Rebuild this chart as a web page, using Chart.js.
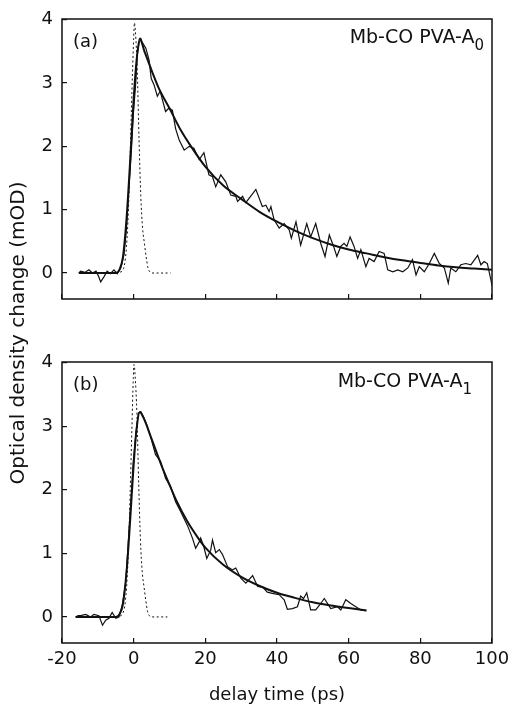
<!DOCTYPE html>
<html>
<head>
<meta charset="utf-8">
<script src="https://cdn.jsdelivr.net/npm/chart.js@4.4.1/dist/chart.umd.min.js"></script>
<style>
  html, body { margin: 0; padding: 0; background: #fff; }
  #wrap { position: relative; width: 512px; height: 706px; overflow: hidden; }
  canvas { position: absolute; left: 0; }
  #top { top: 0; }
  #bottom { top: 320px; }
  #ytitle { position: absolute; left: -183px; top: 322px; width: 400px; text-align: center;
            font-family: "DejaVu Sans"; font-size: 20px; line-height: 22px; color: #111;
            transform: rotate(-90deg); white-space: nowrap; }
</style>
</head>
<body>
<div id="wrap">
  <canvas id="top" width="512" height="320"></canvas>
  <canvas id="bottom" width="512" height="386"></canvas>
  <div id="ytitle">Optical density change (mOD)</div>
</div>
<script>
// axis ticks
const xTicks = [-20, 0, 20, 40, 60, 80, 100];
const yTicks = [0, 1, 2, 3, 4];

// panel (a): measured trace
const aDataT = [-15.3, -14.8, -13.6, -12.5, -11.5, -10.5, -9.8, -9.2, -8.3, -7.4, -6.5, -5.5, -4.6, -3.6, -2.7, -2.0, -1.3, -0.6, -0.1, 0.6,
  1.0, 1.6, 2.0, 2.4, 3.4, 4.3, 4.9, 5.7, 6.6, 7.4, 8.0, 8.9, 9.8, 10.8, 11.7, 12.7, 14.1, 15.5, 16.8, 18.3,
  19.6, 21.0, 22.0, 22.9, 24.3, 25.7, 27.1, 28.5, 29.0, 30.4, 31.3, 32.2, 34.1, 35.9, 36.9, 37.8, 38.3, 39.2, 40.6, 42.0,
  43.4, 44.0, 45.3, 46.6, 48.3, 49.4, 50.8, 52.2, 53.4, 54.6, 55.8, 56.7, 57.8, 58.7, 59.5, 60.4, 61.5, 62.5, 63.4, 64.8,
  65.7, 67.1, 68.5, 69.9, 70.9, 72.3, 73.7, 75.1, 76.5, 77.8, 78.8, 79.7, 81.1, 82.5, 83.9, 85.3, 86.7, 87.8, 88.5, 89.9,
  91.3, 92.7, 94.1, 96.0, 96.9, 97.8, 98.7, 99.7, 100];
const aDataV = [0, 0.03, 0.01, 0.05, 0, 0.03, -0.05, -0.14, -0.06, 0.03, -0.01, 0.05, -0.01, 0.08, 0.29, 0.71, 1.34, 1.97, 2.5, 3.02,
  3.44, 3.65, 3.7, 3.64, 3.55, 3.36, 3.07, 2.97, 2.79, 2.87, 2.74, 2.55, 2.6, 2.57, 2.28, 2.1, 1.94, 2.0, 1.97, 1.79,
  1.9, 1.55, 1.52, 1.36, 1.55, 1.44, 1.23, 1.21, 1.13, 1.21, 1.11, 1.18, 1.32, 1.05, 1.07, 0.97, 1.05, 0.84, 0.71, 0.78,
  0.68, 0.55, 0.81, 0.44, 0.78, 0.57, 0.78, 0.47, 0.26, 0.6, 0.42, 0.26, 0.42, 0.47, 0.42, 0.57, 0.42, 0.23, 0.37, 0.1,
  0.23, 0.18, 0.34, 0.31, 0.05, 0.02, 0.05, 0.02, 0.08, 0.21, -0.03, 0.1, 0.02, 0.15, 0.31, 0.15, 0.08, -0.16, 0.08, 0.02,
  0.13, 0.15, 0.13, 0.28, 0.13, 0.18, 0.15, -0.11, -0.2];

// panel (a): fit
const aFitT = [-15.3, -5, -4, -3, -2, -1, 0, 0.8, 1.7, 3, 5, 7, 10, 13, 16, 20, 25, 30, 35, 40, 45, 50, 55, 60, 65, 70, 75, 80, 85, 90, 95, 100];
const aFitV = [0, 0, 0.05, 0.25, 0.85, 1.75, 2.75, 3.35, 3.7, 3.5, 3.2, 2.92, 2.6, 2.27, 2.0, 1.68, 1.38, 1.17, 0.97, 0.81, 0.67, 0.55, 0.45, 0.37, 0.31, 0.25, 0.2, 0.16, 0.12, 0.09, 0.07, 0.05];

// panel (a): pump pulse (dashed)
const aPulseT = [-5, -4, -3, -2.5, -2, -1.5, -1, -0.5, 0, 0.2, 0.5, 1, 1.5, 2, 2.5, 3, 3.5, 4, 4.5, 5, 10.3];
const aPulseV = [0, 0.01, 0.05, 0.15, 0.42, 0.95, 1.8, 2.85, 3.7, 3.95, 3.8, 3.2, 2.1, 1.2, 0.7, 0.47, 0.25, 0.08, 0.02, 0, 0];

// panel (b): measured trace
const bDataT = [-16.2, -15.5, -14.8, -13.4, -12.0, -11.1, -9.7, -8.7, -7.8, -6.9, -6.0, -5.0, -4.1, -3.2, -2.2, -1.5, -0.8, -0.1, 0.6, 1.3,
  2.0, 2.9, 3.8, 4.7, 6.1, 7.5, 8.9, 10.3, 11.7, 13.1, 15.0, 16.4, 17.3, 18.3, 18.7, 19.6, 20.4, 21.5, 22.0, 22.9,
  23.9, 24.8, 26.2, 27.6, 28.5, 29.9, 31.3, 33.2, 34.6, 36.0, 37.3, 38.7, 40.6, 42.0, 42.9, 44.3, 45.7, 46.6, 47.4, 48.3,
  49.4, 50.8, 51.8, 53.2, 55.0, 56.9, 57.8, 59.2, 60.6, 62.0, 63.4, 64.8];
const bDataV = [0, 0.02, 0.02, 0.04, 0, 0.04, 0.02, -0.13, -0.05, -0.02, 0.07, -0.02, 0, 0.18, 0.55, 1.18, 1.81, 2.44, 2.87, 3.21,
  3.23, 3.13, 3.0, 2.84, 2.55, 2.45, 2.18, 2.05, 1.81, 1.66, 1.44, 1.24, 1.08, 1.18, 1.24, 1.1, 0.92, 1.05, 1.21, 1.01,
  1.06, 0.98, 0.79, 0.74, 0.77, 0.61, 0.53, 0.65, 0.48, 0.47, 0.39, 0.37, 0.35, 0.27, 0.12, 0.13, 0.16, 0.33, 0.29, 0.38,
  0.11, 0.11, 0.18, 0.29, 0.13, 0.16, 0.11, 0.27, 0.21, 0.16, 0.11, 0.1];

// panel (b): fit
const bFitT = [-16.2, -5, -4, -3, -2, -1, 0, 0.8, 1.7, 3, 5, 8, 10, 12, 15, 18, 20, 25, 30, 35, 40, 45, 50, 55, 60, 65];
const bFitV = [0, 0, 0.04, 0.2, 0.7, 1.5, 2.4, 2.95, 3.22, 3.1, 2.8, 2.35, 2.08, 1.82, 1.5, 1.24, 1.09, 0.82, 0.63, 0.49, 0.38, 0.3, 0.23, 0.18, 0.14, 0.1];

// panel (b): pump pulse (dashed)
const bPulseT = [-5, -4, -3, -2.5, -2, -1.5, -1, -0.5, -0.1, 0.1, 0.4, 0.9, 1.4, 1.9, 2.4, 2.9, 3.4, 3.9, 4.4, 4.9, 9.4];
const bPulseV = [0, 0.01, 0.06, 0.17, 0.45, 1.0, 1.9, 2.95, 3.75, 3.97, 3.8, 3.2, 2.1, 1.2, 0.7, 0.47, 0.25, 0.08, 0.02, 0, 0];

const INK = '#111';
const FONT = 'DejaVu Sans';

function pts(ts, vs) {
  return ts.map((t, i) => ({ x: t, y: vs[i] }));
}

function sets(dT, dV, fT, fV, pT, pV) {
  return [
    { data: pts(dT, dV), borderColor: INK, borderWidth: 1.2, tension: 0 },
    { data: pts(fT, fV), borderColor: INK, borderWidth: 2, cubicInterpolationMode: 'monotone' },
    { data: pts(pT, pV), borderColor: INK, borderWidth: 1, borderDash: [2, 2.5], cubicInterpolationMode: 'monotone' }
  ];
}

// frame round the plot plus the panel labels
const frame = {
  id: 'frame',
  afterDraw(chart, args, opts) {
    const { ctx, chartArea: a } = chart;
    ctx.save();
    ctx.strokeStyle = INK;
    ctx.lineWidth = 1.5;
    ctx.strokeRect(a.left, a.top, a.right - a.left, a.bottom - a.top);
    ctx.fillStyle = INK;
    ctx.textBaseline = 'alphabetic';
    ctx.textAlign = 'left';
    ctx.font = '18px "' + FONT + '"';
    ctx.fillText(opts.tag, a.left + 11, a.top + 28);
    ctx.font = '15px "' + FONT + '"';
    const subW = ctx.measureText(opts.sub).width;
    ctx.fillText(opts.sub, a.right - opts.inset - subW, a.top + opts.base + 7);
    ctx.font = '19px "' + FONT + '"';
    ctx.textAlign = 'right';
    ctx.fillText(opts.label, a.right - opts.inset - subW, a.top + opts.base);
    ctx.restore();
  }
};

function noPad(s) {
  s.paddingLeft = 0; s.paddingRight = 0; s.paddingTop = 0; s.paddingBottom = 0;
}

function makeChart(id, datasets, tag, sub, inset, base, showX, padTop, xHeight) {
  return new Chart(document.getElementById(id), {
    type: 'line',
    data: { datasets: datasets },
    options: {
      responsive: false,
      animation: false,
      layout: { padding: { top: padTop, right: 20, left: 0, bottom: 0 } },
      elements: { point: { radius: 0 } },
      plugins: {
        legend: { display: false },
        tooltip: { enabled: false },
        frame: { tag: tag, label: 'Mb-CO PVA-A', sub: sub, inset: inset, base: base }
      },
      scales: {
        x: {
          type: 'linear', min: -20, max: 100,
          afterBuildTicks: s => { s.ticks = xTicks.map(v => ({ value: v })); },
          afterFit: s => { s.height = xHeight; noPad(s); },
          border: { display: false },
          grid: { drawOnChartArea: false, tickLength: -5, color: INK, lineWidth: 1.2 },
          ticks: { display: showX, padding: 11, color: INK, autoSkip: false, maxRotation: 0,
                   font: { family: FONT, size: 18 } },
          title: { display: showX, text: 'delay time (ps)', color: INK, padding: 0,
                   font: { family: FONT, size: 18 } }
        },
        y: {
          type: 'linear', min: -0.41, max: 4.01,
          afterBuildTicks: s => { s.ticks = yTicks.map(v => ({ value: v })); },
          afterFit: s => { s.width = 62; noPad(s); },
          border: { display: false },
          grid: { drawOnChartArea: false, tickLength: -5, color: INK, lineWidth: 1.2 },
          ticks: { padding: 14, color: INK, font: { family: FONT, size: 18 } }
        }
      }
    },
    plugins: [frame]
  });
}

makeChart('top', sets(aDataT, aDataV, aFitT, aFitV, aPulseT, aPulseV), '(a)', '0', 8, 24, false, 19, 21);
makeChart('bottom', sets(bDataT, bDataV, bFitT, bFitV, bPulseT, bPulseV), '(b)', '1', 20, 25, true, 42, 63);
</script>
</body>
</html>
